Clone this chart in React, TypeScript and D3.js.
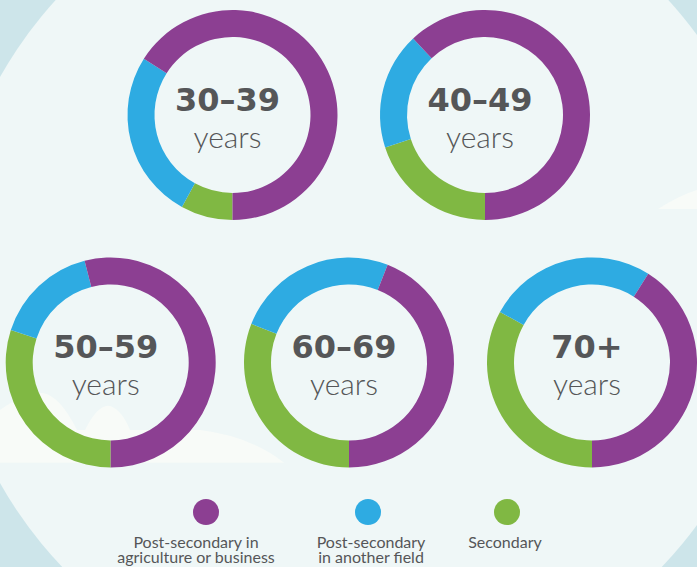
import React from 'react';
import * as d3 from 'd3';

// education level shares (%) by age group
const ageGroups = ['30–39', '40–49', '50–59', '60–69', '70+'];
const agriBusiness = [66, 62, 54, 44, 41];
const anotherField = [26, 18, 16, 25, 26];
const secondary = [8, 20, 30, 31, 33];

const legendLabels = [
  ['Post-secondary in', 'agriculture or business'],
  ['Post-secondary', 'in another field'],
  ['Secondary'],
];
const seriesColors = ['#8C3F92', '#2EABE2', '#80B843'];

const width = 697;
const height = 567;

// donut centres, top row then bottom row
const centers: [number, number][] = [
  [232.5, 115],
  [485, 115],
  [110.7, 362.5],
  [349, 362.5],
  [592, 362.5],
];
const outerR = 105;
const innerR = 78;

const textColor = '#555658';

interface Slice {
  key: string;
  value: number;
  color: string;
}

const App: React.FC = () => {
  // clockwise from 6 o'clock: secondary, another field, agri/business
  const pie = d3.pie<Slice>()
    .sort(null)
    .value(d => d.value)
    .startAngle(Math.PI)
    .endAngle(3 * Math.PI);

  const arc = d3.arc<d3.PieArcDatum<Slice>>()
    .innerRadius(innerR)
    .outerRadius(outerR);

  const legendX = [206, 368, 507];
  const legendTextX = [196, 371, 505];

  return (
    <>
      <style>{'body{margin:0}'}</style>
      <svg width={width} height={height} style={{ display: 'block' }}>
        {/* background */}
        <rect width={width} height={height} fill="#CDE5EA" />
        <circle cx={362} cy={280} r={415} fill="#EFF7F7" />
        {/* pale hills */}
        <path
          d="M0,410 Q25,392 43,393 Q60,396 77,430 L85,430 Q98,404 110,406 Q122,410 130,430 L200,430 Q250,436 284,462.7 L0,462.7 Z"
          fill="#F8FBF8"
        />
        <path d="M658,209 Q680,195 697,190 L697,209 Z" fill="#F8FBF8" />

        {ageGroups.map((label, i) => {
          const [cx, cy] = centers[i];
          const slices: Slice[] = [
            { key: 'secondary', value: secondary[i], color: seriesColors[2] },
            { key: 'another', value: anotherField[i], color: seriesColors[1] },
            { key: 'agri', value: agriBusiness[i], color: seriesColors[0] },
          ];
          return (
            <g key={label} transform={`translate(${cx},${cy})`}>
              {pie(slices).map(d => (
                <path key={d.data.key} d={arc(d) || ''} fill={d.data.color} />
              ))}
              <text
                x={-5}
                y={-4.5}
                textAnchor="middle"
                fontFamily="'DejaVu Sans', sans-serif"
                fontWeight="bold"
                fontSize={32}
                fill={textColor}
              >
                {label}
              </text>
              <text
                x={-5}
                y={32.5}
                textAnchor="middle"
                fontFamily="Lato, sans-serif"
                fontWeight={300}
                fontSize={30}
                fill={textColor}
              >
                years
              </text>
            </g>
          );
        })}

        {/* legend */}
        {legendLabels.map((lines, i) => (
          <g key={i}>
            <circle cx={legendX[i]} cy={512} r={13} fill={seriesColors[i]} />
            <text
              textAnchor="middle"
              fontFamily="Lato, sans-serif"
              fontSize={16}
              fill={textColor}
            >
              {lines.map((t, j) => (
                <tspan key={j} x={legendTextX[i]} y={548 + j * 15}>{t}</tspan>
              ))}
            </text>
          </g>
        ))}
      </svg>
    </>
  );
};

export default App;
